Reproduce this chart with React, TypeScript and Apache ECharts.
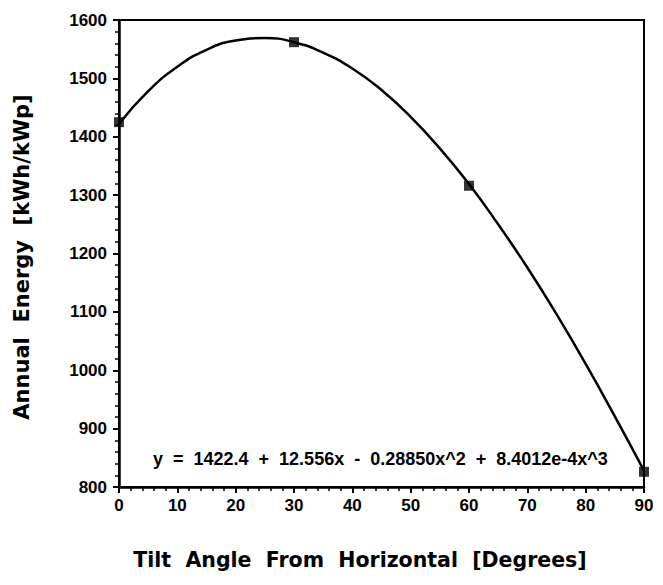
import React, { useEffect, useRef } from "react";
import * as echarts from "echarts";

const measuredX = [0, 30, 60, 90];
const measuredY = [1425, 1562, 1316, 826];

const curveX = [0, 5, 10, 15, 20, 25, 30, 35, 40, 45, 50, 55, 60, 65, 70, 75, 80, 85, 90];
const curveY = [1422, 1478, 1520, 1549, 1565, 1569, 1562, 1544, 1517, 1480, 1434, 1380, 1319, 1250, 1176, 1096, 1011, 921, 828];

const equationText = "y  =  1422.4  +  12.556x  -  0.28850x^2  +  8.4012e-4x^3";
const xTitle = "Tilt  Angle  From  Horizontal  [Degrees]";
const yTitle = "Annual  Energy  [kWh/kWp]";

export default function App() {
  const ref = useRef<HTMLDivElement>(null);
  useEffect(() => {
    if (!ref.current) return;
    const chart = echarts.init(ref.current, null, { renderer: "svg" });
    const font = "Liberation Sans, Arial, sans-serif";
    const titleFont = "DejaVu Sans, sans-serif";
    chart.setOption({
      animation: false,
      backgroundColor: "#fff",
      grid: {
        left: 111,
        right: 11,
        top: 12,
        bottom: 90,
        outerBoundsMode: "none",
        containLabel: false,
        show: true,
        borderColor: "#000",
        borderWidth: 2,
        backgroundColor: "transparent",
      },
      xAxis: {
        type: "value",
        min: 0,
        max: 90,
        interval: 10,
        axisLine: { show: true, lineStyle: { color: "#000", width: 2.5 } },
        axisTick: { show: true, length: 6, lineStyle: { color: "#000", width: 2 } },
        minorTick: { show: true, splitNumber: 5, length: 4, lineStyle: { color: "#000", width: 1.5 } },
        splitLine: { show: false },
        axisLabel: { fontFamily: font, fontWeight: "bold", fontSize: 17, color: "#000", margin: 10, formatter: (v: number) => String(v) },
      },
      yAxis: {
        type: "value",
        min: 800,
        max: 1600,
        interval: 100,
        axisLine: { show: true, lineStyle: { color: "#000", width: 2.5 } },
        axisTick: { show: true, length: 6, lineStyle: { color: "#000", width: 2 } },
        minorTick: { show: true, splitNumber: 5, length: 4, lineStyle: { color: "#000", width: 1.5 } },
        splitLine: { show: false },
        axisLabel: { fontFamily: font, fontWeight: "bold", fontSize: 17, color: "#000", margin: 12, formatter: (v: number) => String(v) },
      },
      series: [
        {
          type: "line",
          data: curveX.map((x, i) => [x, curveY[i]]),
          smooth: true,
          showSymbol: false,
          lineStyle: { color: "#000", width: 2.5 },
          z: 2,
        },
        {
          type: "scatter",
          data: measuredX.map((x, i) => [x, measuredY[i]]),
          symbol: "rect",
          symbolSize: 10,
          itemStyle: { color: "#000" },
          z: 3,
        },
      ],
      graphic: [
        {
          type: "text",
          x: 145,
          y: 451,
          style: {
            text: equationText,
            fontFamily: font,
            fontWeight: "bold",
            fontSize: 18,
            fill: "#000",
            verticalAlign: "middle",
          },
        },
        {
          type: "text",
          x: 352,
          y: 552,
          style: {
            text: xTitle,
            fontFamily: titleFont,
            fontWeight: "bold",
            fontSize: 20.5,
            fill: "#000",
            align: "center",
            verticalAlign: "middle",
          },
        },
        {
          type: "text",
          x: 14,
          y: 249,
          rotation: Math.PI / 2,
          style: {
            text: yTitle,
            fontFamily: titleFont,
            fontWeight: "bold",
            fontSize: 21,
            fill: "#000",
            align: "center",
            verticalAlign: "middle",
          },
        },
      ],
    });
    return () => chart.dispose();
  }, []);
  return <div ref={ref} style={{ width: 647, height: 569 }} />;
}
